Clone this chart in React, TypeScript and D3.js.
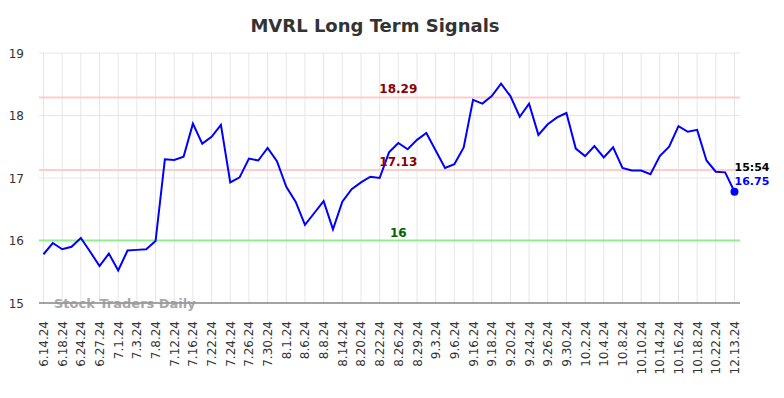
import React, { useEffect, useRef } from 'react';
import * as d3 from 'd3';

const title = 'MVRL Long Term Signals';

const dateLabels = [
  '6.14.24', '6.18.24', '6.24.24', '6.27.24', '7.1.24', '7.3.24', '7.8.24', '7.12.24',
  '7.16.24', '7.22.24', '7.24.24', '7.26.24', '7.30.24', '8.1.24', '8.6.24', '8.8.24',
  '8.14.24', '8.20.24', '8.22.24', '8.26.24', '8.29.24', '9.3.24', '9.6.24', '9.16.24',
  '9.18.24', '9.20.24', '9.24.24', '9.26.24', '9.30.24', '10.2.24', '10.4.24', '10.8.24',
  '10.10.24', '10.14.24', '10.16.24', '10.18.24', '10.22.24', '12.13.24',
];

// closing prices, two points per labelled date
const prices = [
  15.78, 15.96, 15.86, 15.90, 16.04, 15.82, 15.59, 15.79, 15.52, 15.84,
  15.85, 15.86, 15.99, 17.30, 17.29, 17.34, 17.87, 17.55, 17.66, 17.85,
  16.93, 17.01, 17.31, 17.28, 17.48, 17.27, 16.86, 16.62, 16.25, 16.44,
  16.63, 16.18, 16.62, 16.82, 16.93, 17.02, 17.00, 17.41, 17.56, 17.46,
  17.61, 17.72, 17.44, 17.16, 17.22, 17.49, 18.25, 18.19, 18.31, 18.51,
  18.31, 17.98, 18.19, 17.69, 17.86, 17.97, 18.04, 17.47, 17.35, 17.51,
  17.33, 17.49, 17.16, 17.12, 17.12, 17.06, 17.35, 17.50, 17.83, 17.74,
  17.77, 17.28, 17.10, 17.09, 16.78,
];

const yTicks = [15, 16, 17, 18, 19];
const resistanceLevels = [18.29, 17.13];
const supportLevel = 16;
const lastTime = '15:54';
const lastPriceLabel = '16.75';

const App = () => {
  const canvasRef = useRef(null);

  useEffect(() => {
    document.body.style.margin = '0';
    const canvas = d3.select(canvasRef.current);
    canvas.selectAll('*').remove();
    const svg = canvas.append('svg').attr('width', 784).attr('height', 398)
      .style('font-family', 'DejaVu Sans').style('display', 'block');

    const idx = prices.map((d, i) => i);
    const x = d3.scalePoint().domain(idx).range([43.5, 734.5]);
    const y = d3.scaleLinear().domain([15, 19]).range([303, 53]);
    const left = 39;
    const right = 740;

    svg.append('text')
      .attr('x', 375).attr('y', 32)
      .attr('text-anchor', 'middle')
      .style('font-size', '18px').style('font-weight', 'bold').style('fill', '#333')
      .text(title);

    // grid
    svg.append('g').selectAll('line')
      .data(dateLabels)
      .enter()
      .append('line')
      .attr('x1', (d, i) => x(i * 2)).attr('x2', (d, i) => x(i * 2))
      .attr('y1', y(19)).attr('y2', y(15))
      .attr('stroke', '#e6e6e6').attr('stroke-width', 1);

    svg.append('g').selectAll('line')
      .data(yTicks)
      .enter()
      .append('line')
      .attr('x1', left).attr('x2', right)
      .attr('y1', d => y(d)).attr('y2', d => y(d))
      .attr('stroke', '#e6e6e6').attr('stroke-width', 1);

    svg.append('g').selectAll('text')
      .data(yTicks)
      .enter()
      .append('text')
      .attr('x', 24).attr('y', d => y(d) + 4.5)
      .attr('text-anchor', 'end')
      .style('font-size', '12px').style('fill', '#333')
      .text(d => d);

    // levels
    resistanceLevels.forEach(v => {
      svg.append('line')
        .attr('x1', left).attr('x2', right).attr('y1', y(v)).attr('y2', y(v))
        .attr('stroke', '#ffcccc').attr('stroke-width', 2);
    });
    svg.append('line')
      .attr('x1', left).attr('x2', right).attr('y1', y(supportLevel)).attr('y2', y(supportLevel))
      .attr('stroke', '#90ee90').attr('stroke-width', 2);

    // x axis
    svg.append('line')
      .attr('x1', left).attr('x2', right).attr('y1', y(15)).attr('y2', y(15))
      .attr('stroke', '#555').attr('stroke-width', 1);

    svg.append('g').selectAll('text')
      .data(dateLabels)
      .enter()
      .append('text')
      .attr('transform', (d, i) => `translate(${x(i * 2) + 4.5},321) rotate(-90)`)
      .attr('text-anchor', 'end')
      .style('font-size', '12px').style('fill', '#333')
      .text(d => d);

    svg.append('text')
      .attr('x', 54).attr('y', 308)
      .style('font-size', '13px').style('font-weight', 'bold').style('fill', '#999')
      .style('opacity', 0.85)
      .text('Stock Traders Daily');

    // price line
    const line = d3.line().x((d, i) => x(i)).y(d => y(d));
    svg.append('path')
      .datum(prices)
      .attr('d', line)
      .attr('fill', 'none')
      .attr('stroke', 'blue')
      .attr('stroke-width', 2);

    const labelX = x(38);
    resistanceLevels.forEach(v => {
      svg.append('text')
        .attr('x', labelX).attr('y', y(v) - 4)
        .attr('text-anchor', 'middle')
        .style('font-size', '12px').style('font-weight', 'bold').style('fill', '#8b0000')
        .text(v.toFixed(2));
    });
    svg.append('text')
      .attr('x', labelX).attr('y', y(supportLevel) - 4)
      .attr('text-anchor', 'middle')
      .style('font-size', '12px').style('font-weight', 'bold').style('fill', '#006400')
      .text(supportLevel);

    const last = prices.length - 1;
    svg.append('circle')
      .attr('cx', x(last)).attr('cy', y(prices[last])).attr('r', 4)
      .attr('fill', 'blue');
    svg.append('text')
      .attr('x', x(last)).attr('y', 171)
      .style('font-size', '11px').style('font-weight', 'bold').style('fill', '#000')
      .text(lastTime);
    svg.append('text')
      .attr('x', x(last)).attr('y', 185)
      .style('font-size', '11px').style('font-weight', 'bold').style('fill', 'blue')
      .text(lastPriceLabel);
  }, []);

  return (
    <div ref={canvasRef}></div>
  );
};

export default App;
